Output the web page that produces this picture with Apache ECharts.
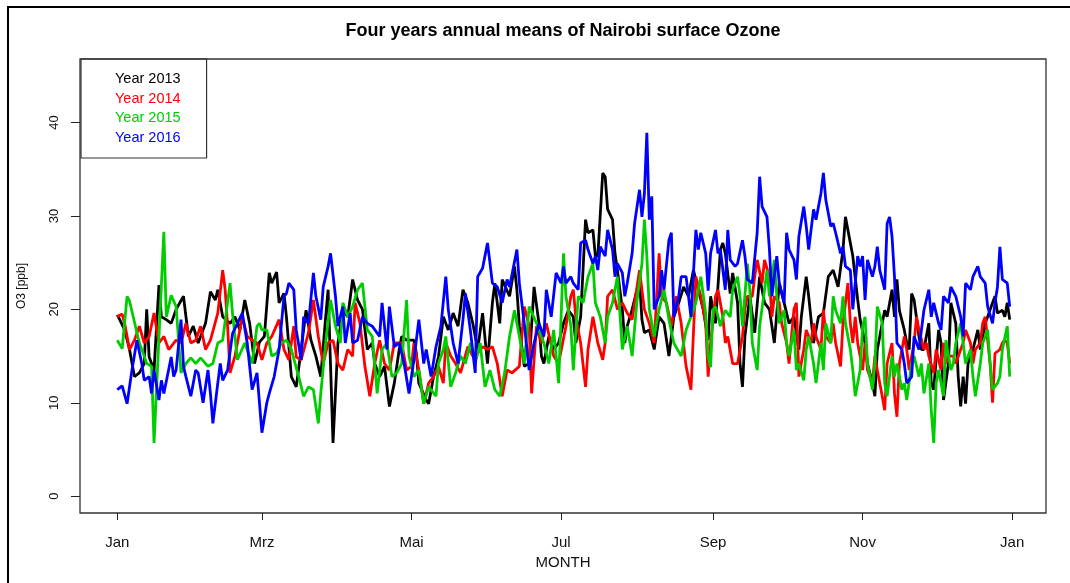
<!DOCTYPE html>
<html>
<head>
<meta charset="utf-8">
<style>
html,body{margin:0;padding:0;background:#fff;}
#c{width:1070px;height:583px;}
</style>
<script src="https://cdn.jsdelivr.net/npm/echarts@6/dist/echarts.min.js"></script>
</head>
<body>
<div id="c"></div>
<script>
// ---- tick labels ----
const monthTicks = [0, 59, 120, 181, 243, 304, 365];
const monthLabels = ['Jan', 'Mrz', 'Mai', 'Jul', 'Sep', 'Nov', 'Jan'];
const yTicks = [0, 10, 20, 30, 40];
const seriesNames = ['Year 2013', 'Year 2014', 'Year 2015', 'Year 2016'];
const seriesColors = ['#000000', '#ff0000', '#00cd00', '#0000ff'];

// ---- data: [day of year, O3 ppb] ----
const o3_2013 = [[0,19.4],[1,18.9],[3,17.8],[5,15.7],[7,12.8],[9,13.2],[11,14.2],[12,20.0],[13,14.9],[15,13.5],[17,22.6],[18,19.2],[20,18.9],[22,18.5],[24,20.0],[27,21.4],[29,17.1],[31,18.2],[33,16.4],[36,18.5],[38,21.9],[40,21.0],[41,22.1],[43,19.2],[46,18.5],[48,19.2],[50,17.8],[52,21.0],[54,18.5],[56,14.2],[58,16.5],[60,17.1],[62,23.9],[63,22.8],[65,24.0],[66,20.7],[68,21.7],[69,19.2],[71,12.8],[73,11.7],[75,15.7],[77,19.9],[79,16.7],[81,15.0],[83,12.8],[85,19.2],[86,22.1],[88,5.7],[90,16.4],[92,19.9],[94,19.2],[96,23.2],[98,21.0],[100,20.0],[102,15.7],[104,16.4],[105,14.2],[107,12.8],[109,13.9],[111,9.6],[113,12.1],[115,15.7],[116,17.1],[118,16.7],[121,16.7],[122,15.3],[123,12.1],[126,10.3],[127,9.9],[129,12.8],[131,14.9],[133,19.2],[135,17.8],[137,19.6],[139,18.2],[141,22.1],[143,20.7],[145,18.5],[147,15.7],[149,19.6],[151,14.2],[153,20.7],[154,22.8],[156,18.5],[157,23.2],[160,21.4],[162,24.6],[163,22.1],[164,18.2],[166,13.9],[168,14.2],[170,22.4],[172,18.5],[173,15.0],[174,14.2],[176,17.1],[178,15.7],[180,16.4],[182,18.5],[184,19.9],[186,19.2],[187,16.4],[189,19.2],[191,29.6],[192,28.2],[194,28.5],[195,25.7],[196,25.7],[198,34.6],[199,34.2],[200,30.7],[202,29.6],[203,26.0],[204,24.2],[206,20.0],[207,16.4],[208,18.2],[210,20.0],[213,23.2],[214,18.9],[215,17.5],[217,17.8],[219,15.7],[221,19.2],[223,18.5],[225,15.0],[227,19.2],[229,20.7],[231,22.4],[233,21.4],[235,24.2],[237,22.1],[239,20.0],[241,16.7],[242,21.4],[244,18.5],[246,26.4],[247,27.1],[248,26.0],[250,21.7],[251,23.9],[253,20.7],[254,14.2],[255,11.7],[256,17.1],[258,21.4],[260,17.5],[262,23.5],[264,20.7],[266,20.0],[268,16.4],[270,22.8],[272,20.7],[274,18.5],[276,19.2],[278,15.7],[279,19.2],[281,23.5],[282,21.4],[284,16.4],[286,19.2],[288,19.6],[290,23.5],[292,24.2],[294,22.4],[296,26.4],[297,29.9],[299,27.1],[300,25.7],[302,21.0],[303,18.9],[305,16.4],[306,14.2],[308,12.1],[309,10.7],[310,15.7],[312,18.5],[313,19.9],[314,19.2],[316,22.1],[317,19.2],[318,23.2],[319,19.9],[321,17.8],[322,16.4],[323,15.7],[324,21.7],[325,21.0],[327,17.1],[328,15.7],[329,15.7],[331,18.5],[332,12.1],[333,11.4],[335,17.8],[336,16.4],[337,10.3],[339,14.2],[340,20.7],[342,18.5],[343,12.8],[344,9.6],[345,12.8],[346,9.9],[347,14.2],[349,15.7],[351,17.8],[352,15.7],[354,18.5],[355,19.2],[357,20.7],[358,21.4],[359,19.6],[361,19.9],[362,19.2],[363,20.7],[364,18.9]];

const o3_2014 = [[0,19.2],[2,19.5],[3,18.5],[5,15.7],[7,16.7],[9,18.2],[11,16.4],[13,17.1],[15,19.6],[17,16.4],[19,17.1],[21,15.7],[24,16.7],[26,16.4],[28,18.5],[30,16.4],[32,16.7],[34,18.2],[36,15.7],[38,16.7],[41,19.6],[43,24.2],[44,22.1],[45,18.2],[46,13.2],[48,15.0],[51,19.2],[53,17.1],[55,16.7],[57,16.4],[59,14.6],[61,16.4],[63,17.1],[66,18.9],[68,15.7],[70,14.6],[72,18.2],[73,14.9],[75,14.6],[78,17.5],[80,21.0],[82,17.1],[84,14.2],[86,16.4],[88,16.7],[90,14.2],[92,13.5],[94,15.7],[96,15.0],[97,20.7],[99,18.5],[101,13.9],[103,10.7],[105,14.2],[107,16.7],[109,14.2],[111,13.5],[113,16.4],[116,16.4],[118,13.5],[120,13.9],[121,16.4],[123,13.5],[125,9.9],[127,12.1],[129,12.8],[131,13.9],[133,12.1],[134,16.4],[136,15.0],[138,14.2],[140,13.2],[143,16.0],[145,15.0],[147,15.3],[149,16.0],[151,15.7],[153,16.0],[155,14.2],[157,10.7],[159,13.5],[161,13.2],[164,13.9],[166,20.3],[168,18.2],[169,11.0],[171,18.2],[173,16.4],[175,18.5],[178,15.0],[180,14.2],[183,18.2],[185,21.4],[186,22.1],[187,19.2],[189,16.4],[191,11.7],[192,15.7],[194,19.2],[196,16.4],[198,14.6],[199,16.4],[200,21.4],[202,22.1],[204,20.0],[206,20.7],[208,19.6],[210,18.9],[213,24.2],[215,20.0],[217,18.5],[219,16.4],[221,26.0],[222,21.4],[224,20.7],[226,18.2],[228,21.4],[230,18.5],[232,13.9],[234,11.4],[236,23.5],[238,21.4],[240,18.5],[241,12.8],[242,16.4],[244,21.4],[245,22.1],[247,19.2],[248,16.4],[249,17.1],[251,14.2],[252,14.2],[253,14.2],[255,17.1],[256,20.0],[257,21.4],[259,21.4],[260,23.5],[261,25.3],[263,22.8],[264,25.3],[266,23.5],[267,19.2],[268,21.4],[270,20.7],[271,18.5],[273,16.4],[274,14.2],[276,20.0],[277,20.7],[278,12.8],[280,15.7],[281,17.8],[283,16.4],[284,18.5],[285,17.1],[287,15.7],[288,20.0],[289,17.1],[291,16.4],[292,18.5],[293,16.4],[295,13.9],[296,18.5],[298,22.8],[299,18.5],[300,16.4],[301,19.2],[302,16.4],[304,13.5],[305,16.4],[306,13.5],[308,12.1],[309,15.0],[310,13.5],[312,10.7],[313,9.2],[314,14.2],[316,16.4],[317,11.0],[318,8.5],[319,14.2],[321,17.1],[322,15.7],[323,13.5],[325,16.4],[326,19.2],[327,17.8],[329,15.7],[330,16.4],[331,15.0],[333,13.2],[334,15.7],[336,13.5],[337,16.4],[338,14.2],[339,15.0],[341,15.0],[342,14.2],[344,15.7],[345,16.4],[346,17.8],[348,16.4],[349,14.2],[350,15.7],[352,16.4],[353,18.5],[354,19.2],[356,14.2],[357,10.0],[358,15.3],[360,15.7],[361,16.4],[362,16.7],[363,16.4],[364,14.2]];

const o3_2015 = [[0,16.7],[2,15.8],[4,21.4],[5,20.9],[9,16.4],[11,15.0],[12,14.2],[14,13.9],[15,5.7],[19,28.3],[20,19.2],[22,21.5],[24,20.3],[26,13.2],[28,14.2],[30,14.8],[32,14.2],[34,14.8],[37,13.9],[39,14.2],[41,16.4],[43,16.7],[46,22.8],[47,19.6],[49,14.6],[52,16.4],[55,14.2],[57,18.2],[58,18.5],[59,17.8],[61,17.8],[63,15.0],[65,15.3],[67,16.4],[69,16.7],[71,15.7],[74,12.8],[76,10.7],[78,11.7],[80,11.4],[82,7.8],[83,11.0],[85,16.4],[87,21.0],[89,18.2],[91,16.4],[92,20.7],[94,19.2],[96,20.3],[98,22.1],[100,22.8],[102,17.8],[104,17.1],[106,11.0],[108,15.7],[110,16.4],[112,12.8],[114,13.2],[116,14.2],[118,21.0],[119,15.0],[121,12.8],[123,13.5],[125,9.9],[127,11.7],[130,10.7],[131,14.2],[133,15.7],[134,17.1],[136,11.7],[138,13.2],[140,15.0],[142,14.2],[144,16.4],[146,14.2],[148,16.4],[150,11.7],[152,13.5],[154,11.4],[156,10.7],[158,13.2],[160,17.1],[162,19.9],[164,17.1],[166,14.2],[168,20.3],[171,18.5],[174,16.4],[176,14.2],[178,17.8],[180,12.1],[182,26.0],[183,21.4],[185,18.2],[186,13.5],[188,21.4],[190,20.7],[192,23.5],[194,24.9],[195,20.7],[197,19.2],[199,16.4],[200,19.2],[202,20.7],[204,23.5],[206,15.7],[208,18.2],[210,15.0],[212,21.0],[214,24.9],[215,29.6],[216,25.7],[217,20.0],[219,17.1],[221,20.0],[223,22.1],[225,18.9],[227,16.4],[230,15.0],[232,17.8],[234,19.2],[236,20.7],[238,23.5],[240,19.6],[241,15.0],[242,13.8],[243,20.0],[244,20.3],[246,18.2],[247,19.2],[248,19.9],[250,19.2],[251,22.1],[253,23.5],[254,21.4],[255,18.2],[257,24.9],[258,22.1],[259,16.4],[261,13.5],[262,18.2],[264,22.1],[265,24.2],[266,21.4],[268,25.3],[269,21.4],[270,18.5],[272,19.9],[273,16.4],[274,15.0],[276,17.8],[277,13.5],[278,14.2],[280,12.4],[281,15.7],[282,17.1],[284,14.2],[285,12.1],[287,16.4],[288,13.5],[289,18.5],[291,16.4],[292,21.4],[293,19.9],[295,18.5],[296,21.4],[297,18.5],[299,15.7],[300,13.5],[301,10.7],[303,13.5],[304,18.2],[305,19.2],[306,14.2],[308,11.4],[309,14.2],[310,20.3],[312,18.5],[313,12.1],[314,10.7],[316,15.0],[317,12.8],[318,14.2],[320,11.4],[321,12.1],[322,10.3],[324,14.2],[325,15.0],[327,12.8],[328,14.2],[329,11.0],[331,14.2],[332,9.2],[333,5.7],[334,12.1],[335,13.5],[337,10.7],[338,16.7],[340,13.5],[341,14.2],[342,16.4],[344,18.5],[345,16.4],[346,14.2],[348,15.7],[349,12.8],[350,10.7],[352,14.2],[353,16.4],[355,17.8],[356,14.2],[357,11.4],[359,12.1],[360,12.8],[361,15.7],[363,18.2],[364,12.8]];

const o3_2016 = [[0,11.4],[2,11.8],[4,9.9],[6,13.5],[8,16.7],[10,14.2],[11,12.4],[13,12.8],[14,11.0],[15,13.5],[17,10.3],[18,12.4],[19,11.0],[22,14.9],[23,12.8],[24,13.5],[26,18.9],[27,13.9],[28,12.8],[30,10.7],[32,13.5],[33,13.2],[35,10.0],[37,13.5],[38,11.0],[39,7.8],[41,12.1],[42,14.2],[43,12.4],[45,13.5],[47,17.4],[51,19.6],[53,16.4],[55,11.4],[57,13.2],[58,10.0],[59,6.8],[61,10.0],[62,11.0],[64,12.8],[66,15.7],[68,21.4],[69,21.7],[70,22.8],[72,22.1],[73,17.8],[75,14.6],[76,19.2],[78,18.5],[80,23.9],[81,21.4],[83,18.9],[84,22.4],[86,24.6],[87,26.0],[89,21.4],[90,18.2],[92,20.3],[93,16.4],[95,19.6],[96,16.4],[98,16.7],[100,19.2],[102,18.5],[104,18.2],[107,17.1],[108,20.7],[110,15.7],[111,20.3],[113,16.0],[115,16.4],[117,14.2],[119,11.0],[121,14.6],[123,18.9],[125,14.2],[126,15.7],[128,12.8],[130,16.0],[132,18.2],[134,23.5],[135,20.0],[137,16.4],[139,14.2],[141,18.9],[142,21.7],[144,17.8],[146,13.2],[147,23.5],[149,24.4],[151,27.1],[152,25.0],[153,22.8],[155,22.4],[157,20.7],[159,23.2],[160,22.4],[163,26.4],[164,22.8],[166,18.5],[168,13.5],[170,16.4],[172,18.5],[174,17.1],[175,22.1],[177,19.2],[179,23.9],[181,22.8],[182,24.6],[183,22.8],[185,23.5],[186,22.8],[188,22.1],[189,27.1],[191,27.4],[192,26.4],[194,24.9],[195,25.7],[196,24.2],[197,26.7],[199,25.7],[200,28.5],[202,26.4],[203,23.5],[204,24.9],[206,23.9],[207,21.4],[208,22.8],[210,26.0],[211,29.2],[213,32.8],[214,29.9],[215,32.4],[216,38.9],[217,29.6],[218,32.1],[219,20.0],[221,21.4],[222,24.2],[223,22.1],[225,27.4],[226,28.2],[227,19.2],[229,21.4],[230,23.5],[232,23.5],[234,19.2],[236,28.5],[237,26.4],[238,28.2],[240,26.0],[241,22.0],[242,26.0],[244,28.5],[245,26.0],[246,26.4],[248,22.1],[249,28.5],[250,25.3],[252,24.6],[253,24.9],[255,27.4],[256,25.7],[257,23.2],[259,22.8],[261,28.2],[262,34.2],[263,31.0],[265,29.9],[266,26.4],[267,21.4],[269,25.7],[270,22.8],[272,20.7],[273,28.2],[274,26.4],[276,25.3],[277,23.2],[278,27.8],[280,31.0],[281,28.9],[282,26.4],[284,30.7],[285,29.6],[287,32.4],[288,34.6],[289,31.7],[291,28.9],[292,29.2],[293,28.2],[295,26.0],[296,26.7],[297,24.6],[299,24.2],[300,20.0],[302,25.7],[303,24.6],[304,25.7],[305,21.0],[306,25.3],[308,23.5],[309,24.6],[310,26.7],[311,24.2],[313,22.1],[314,29.2],[315,29.9],[316,27.8],[317,23.5],[318,16.4],[320,15.7],[321,14.2],[322,12.1],[324,12.8],[325,17.1],[327,15.7],[328,17.8],[329,19.9],[331,22.1],[332,19.2],[333,20.7],[335,18.5],[336,17.8],[337,21.4],[339,20.7],[340,22.4],[342,21.4],[344,19.2],[345,17.1],[346,22.8],[348,22.1],[349,23.5],[351,24.6],[352,23.5],[354,22.8],[355,20.3],[357,18.5],[358,20.7],[359,22.4],[360,26.7],[361,23.2],[363,22.8],[364,20.3]];

const seriesData = [o3_2013, o3_2014, o3_2015, o3_2016];

const FONT = '"Liberation Sans", Arial, Helvetica, sans-serif';
const TXT = '#111';

const chart = echarts.init(document.getElementById('c'), null, {renderer: 'canvas'});

const option = {
  animation: false,
  backgroundColor: '#ffffff',
  textStyle: {fontFamily: FONT},
  graphic: [
    {type: 'line', silent: true, z: 100,
     shape: {x1: 8, y1: 7, x2: 8, y2: 590},
     style: {stroke: '#000', lineWidth: 2}},
    {type: 'line', silent: true, z: 100,
     shape: {x1: 7, y1: 7, x2: 1070, y2: 7},
     style: {stroke: '#000', lineWidth: 2}}
  ],
  title: {
    text: 'Four years annual means of Nairobi surface Ozone',
    left: 563, top: 22, textAlign: 'center', padding: 0,
    textStyle: {fontFamily: FONT, fontSize: 18, fontWeight: 'bold', color: '#000'}
  },
  legend: {
    orient: 'vertical',
    left: 81, top: 59,
    icon: 'none',
    itemWidth: 0, itemHeight: 15, itemGap: 4.5,
    padding: [12.5, 26, 13, 29],
    borderColor: '#333', borderWidth: 1.2,
    selectedMode: false,
    textStyle: {fontFamily: FONT, fontSize: 14.5, lineHeight: 15},
    data: seriesNames.map((n, i) => ({name: n, textStyle: {color: seriesColors[i]}}))
  },
  grid: {
    left: 80, top: 59, width: 966, height: 454,
    show: true, borderColor: '#333', borderWidth: 1.3, backgroundColor: 'transparent'
  },
  xAxis: {
    type: 'value', min: -15.2, max: 378.8,
    axisLine: {show: false, onZero: false},
    splitLine: {show: false},
    axisTick: {show: true, length: 7, customValues: monthTicks, lineStyle: {color: '#222', width: 1}},
    axisLabel: {
      customValues: monthTicks, margin: 22,
      formatter: v => monthLabels[monthTicks.indexOf(v)],
      fontFamily: FONT, fontSize: 15, color: TXT
    },
    name: 'MONTH', nameLocation: 'middle', nameGap: 42,
    nameTextStyle: {fontFamily: FONT, fontSize: 15, color: TXT}
  },
  yAxis: {
    type: 'value', min: -1.8, max: 46.8,
    axisLine: {show: false, onZero: false},
    splitLine: {show: false},
    axisTick: {show: true, length: 9, customValues: yTicks, lineStyle: {color: '#222', width: 1}},
    axisLabel: {
      customValues: yTicks, rotate: 90, margin: 19,
      fontFamily: FONT, fontSize: 13, color: TXT
    },
    name: 'O3 [ppb]', nameLocation: 'middle', nameRotate: 90, nameGap: 52,
    nameTextStyle: {fontFamily: FONT, fontSize: 12, color: TXT}
  },
  series: seriesData.map((d, i) => ({
    name: seriesNames[i],
    type: 'line',
    data: d,
    showSymbol: false,
    symbol: 'none',
    silent: true,
    z: 2 + i,
    lineStyle: {color: seriesColors[i], width: 2.8},
    itemStyle: {color: seriesColors[i]}
  }))
};

chart.setOption(option);
</script>
</body>
</html>
